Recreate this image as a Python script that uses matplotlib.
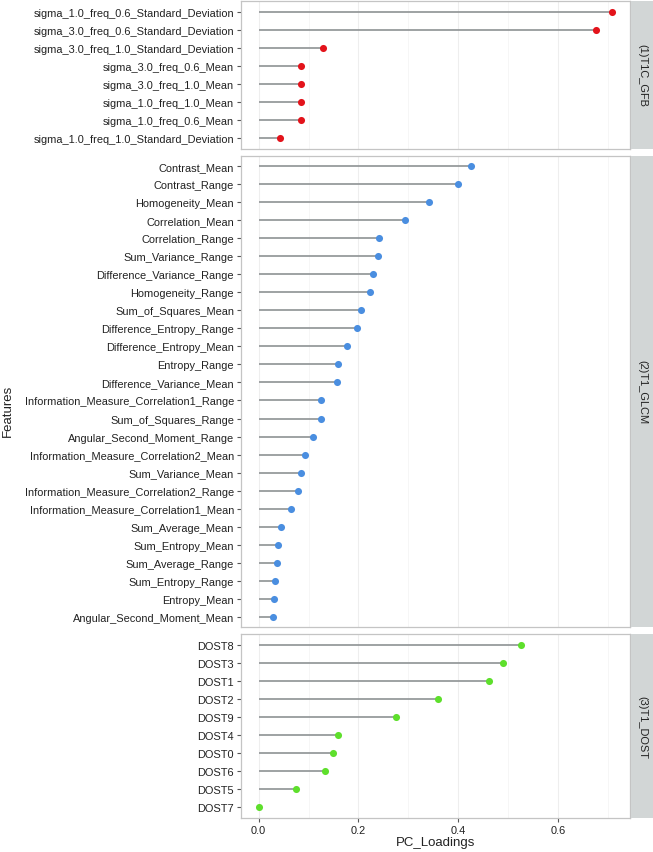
import matplotlib
matplotlib.use("Agg")
import matplotlib.pyplot as plt
from matplotlib.ticker import MultipleLocator

plt.rcParams['font.family'] = ['Liberation Sans', 'DejaVu Sans']

# ---------------- data ----------------
gfb_features = [
    "sigma_1.0_freq_0.6_Standard_Deviation",
    "sigma_3.0_freq_0.6_Standard_Deviation",
    "sigma_3.0_freq_1.0_Standard_Deviation",
    "sigma_3.0_freq_0.6_Mean",
    "sigma_3.0_freq_1.0_Mean",
    "sigma_1.0_freq_1.0_Mean",
    "sigma_1.0_freq_0.6_Mean",
    "sigma_1.0_freq_1.0_Standard_Deviation",
]
gfb_values = [0.709, 0.677, 0.128, 0.084, 0.084, 0.084, 0.084, 0.042]

glcm_features = [
    "Contrast_Mean", "Contrast_Range", "Homogeneity_Mean", "Correlation_Mean",
    "Correlation_Range", "Sum_Variance_Range", "Difference_Variance_Range",
    "Homogeneity_Range", "Sum_of_Squares_Mean", "Difference_Entropy_Range",
    "Difference_Entropy_Mean", "Entropy_Range", "Difference_Variance_Mean",
    "Information_Measure_Correlation1_Range", "Sum_of_Squares_Range",
    "Angular_Second_Moment_Range", "Information_Measure_Correlation2_Mean",
    "Sum_Variance_Mean", "Information_Measure_Correlation2_Range",
    "Information_Measure_Correlation1_Mean", "Sum_Average_Mean",
    "Sum_Entropy_Mean", "Sum_Average_Range", "Sum_Entropy_Range",
    "Entropy_Mean", "Angular_Second_Moment_Mean",
]
glcm_values = [0.425, 0.399, 0.342, 0.293, 0.242, 0.240, 0.230, 0.224, 0.206,
               0.197, 0.177, 0.159, 0.158, 0.125, 0.125, 0.108, 0.092, 0.085,
               0.078, 0.065, 0.044, 0.039, 0.036, 0.033, 0.031, 0.029]

dost_features = ["DOST8", "DOST3", "DOST1", "DOST2", "DOST9",
                 "DOST4", "DOST0", "DOST6", "DOST5", "DOST7"]
dost_values = [0.525, 0.489, 0.462, 0.359, 0.276, 0.160, 0.148, 0.132, 0.075, 0.0]

panel_labels = ["(1)T1C_GFB", "(2)T1_GLCM", "(3)T1_DOST"]
panel_colors = ["#E3131B", "#4A8EE0", "#5EDF2C"]

x_ticks = [0.0, 0.2, 0.4, 0.6]
x_ticklabels = ["0.0", "0.2", "0.4", "0.6"]

# ---------------- layout ----------------
W, H = 653, 853
fig = plt.figure(figsize=(W / 100, H / 100), dpi=100)

panels = [(gfb_features, gfb_values), (glcm_features, glcm_values),
          (dost_features, dost_values)]

left_px, right_px = 241, 630
strip_right = 653
top_px, bottom_px, gap_px = 2, 819, 7
units = [len(f) + 0.2 for f, _ in panels]
unit_px = (bottom_px - top_px - gap_px * (len(panels) - 1)) / sum(units)

allvals = gfb_values + glcm_values + dost_values
vmax = max(allvals)
xlim = (-0.05 * vmax, vmax * 1.05)

border = "#C4C4C4"
fs = 7.9
cur_top = top_px
for i, ((feats, vals), u) in enumerate(zip(panels, units)):
    h = u * unit_px
    ax = fig.add_axes([left_px / W, 1 - (cur_top + h) / H,
                       (right_px - left_px) / W, h / H])
    n = len(feats)
    ys = list(range(n - 1, -1, -1))
    ax.hlines(ys, 0, vals, color="#8E9294", lw=1.2, zorder=2)
    ax.scatter(vals, ys, s=26, color=panel_colors[i], zorder=3, linewidths=0)
    ax.set_ylim(-0.6, n - 1 + 0.6)
    ax.set_xlim(*xlim)
    ax.set_yticks(ys)
    ax.set_yticklabels(feats)
    ax.xaxis.set_major_locator(MultipleLocator(0.2))
    ax.xaxis.set_minor_locator(MultipleLocator(0.1))
    ax.grid(True, axis="x", which="major", color="#EEEEEE", lw=0.8, zorder=0)
    ax.grid(True, axis="x", which="minor", color="#F5F5F5", lw=0.6, zorder=0)
    ax.set_axisbelow(True)
    for s in ax.spines.values():
        s.set_color(border)
        s.set_linewidth(0.9)
    ax.tick_params(axis="y", length=3, color="#555555", labelsize=fs,
                   labelcolor="#222222", pad=2, width=0.8)
    ax.tick_params(axis="x", which="minor", length=0)
    if i < len(panels) - 1:
        ax.tick_params(axis="x", which="major", length=0, labelbottom=False)
    else:
        ax.set_xticks(x_ticks)
        ax.set_xticklabels(x_ticklabels)
        ax.tick_params(axis="x", which="major", length=3, color="#555555",
                       labelsize=fs, labelcolor="#222222", pad=2, width=0.8)
        ax.set_xlabel("PC_Loadings", fontsize=9.5, color="#222222", labelpad=1)
    # strip
    sax = fig.add_axes([(right_px + 1) / W, 1 - (cur_top + h) / H,
                        (strip_right - right_px - 1) / W, h / H])
    sax.set_facecolor("#D2D6D6")
    sax.set_xticks([])
    sax.set_yticks([])
    for s in sax.spines.values():
        s.set_visible(False)
    sax.text(0.5, 0.5, panel_labels[i], rotation=270, ha="center", va="center",
             fontsize=fs, color="#222222", transform=sax.transAxes)
    cur_top += h + gap_px

fig.text(8 / W, 1 - ((top_px + bottom_px) / 2) / H, "Features", rotation=90,
         ha="center", va="center", fontsize=9.5, color="#222222")

fig.savefig("out.png", dpi=100)
